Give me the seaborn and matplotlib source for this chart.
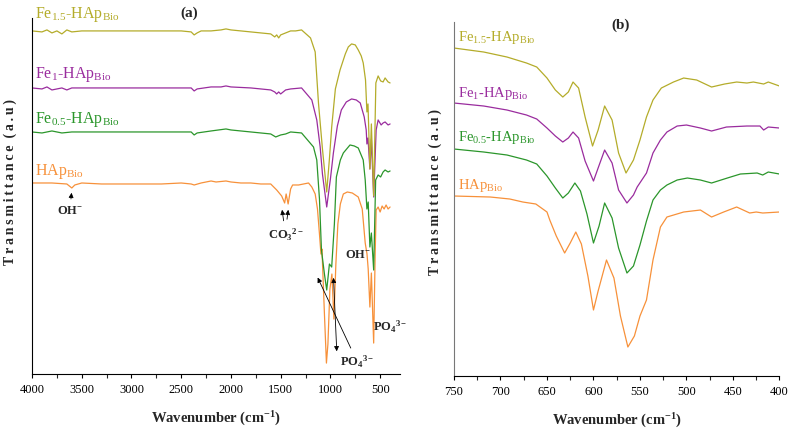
import numpy as np
import seaborn as sns
import matplotlib
matplotlib.use('Agg')
import matplotlib.pyplot as plt
from matplotlib.ticker import MultipleLocator

sns.set_style('ticks')
plt.rcParams['font.family'] = ['Liberation Serif', 'DejaVu Serif']
plt.rcParams['mathtext.fontset'] = 'custom'
plt.rcParams['mathtext.rm'] = 'Liberation Serif'
plt.rcParams['mathtext.it'] = 'Liberation Serif:italic'
plt.rcParams['mathtext.bf'] = 'Liberation Serif:bold'

names = ['HAp', 'Fe0.5', 'Fe1', 'Fe1.5']
labels = {'HAp': r'HAp$_{\mathrm{Bio}}$',
          'Fe0.5': r'Fe$_{\mathrm{0.5}}$-HAp$_{\mathrm{Bio}}$',
          'Fe1': r'Fe$_{\mathrm{1}}$-HAp$_{\mathrm{Bio}}$',
          'Fe1.5': r'Fe$_{\mathrm{1.5}}$-HAp$_{\mathrm{Bio}}$'}
colors = {'HAp': '#f7913a', 'Fe0.5': '#2b962b', 'Fe1': '#9a2c9e', 'Fe1.5': '#b4ac2a'}

# panel (a): full range, arbitrary transmittance units (curves already stacked)
wn_a = {
    'Fe1.5': [4000, 3900, 3850, 3800, 3750, 3700, 3650, 3600, 3500, 3400,
              3300, 3000, 2700, 2500, 2400, 2370, 2340, 2300, 2200, 2100,
              2050, 2000, 1900, 1800, 1700, 1600, 1560, 1540, 1520, 1500,
              1450, 1400, 1350, 1290, 1200, 1153, 1120, 1080, 1037, 1010,
              987, 950, 903, 850, 820, 787, 750, 720, 690, 670, 647, 633, 622,
              603, 588, 565, 543, 520, 495, 470, 450, 420, 400],
    'Fe1': [4000, 3900, 3850, 3800, 3700, 3650, 3600, 3500, 3400, 3000,
            2700, 2400, 2370, 2340, 2200, 2100, 2050, 2000, 1800, 1700,
            1600, 1560, 1540, 1520, 1500, 1450, 1400, 1290, 1187, 1137,
            1103, 1080, 1037, 1000, 970, 930, 890, 840, 787, 740, 700, 660, 640,
            633, 622, 603, 588, 565, 540, 520, 490, 470, 450,
            420, 400],
    'Fe0.5': [4000, 3900, 3800, 3700, 3600, 3500, 3000, 2700, 2400, 2370,
              2340, 2200, 2050, 2000, 1800, 1600, 1550, 1500, 1450, 1400,
              1290, 1170, 1137, 1110, 1090, 1060, 1037, 1010, 987, 960,
              940, 900, 870, 803, 760, 720, 670, 650, 633, 620, 603, 588,
              565, 545, 520, 495, 470, 450, 420, 400],
    'HAp': [4000, 3800, 3650, 3600, 3570, 3500, 3300, 3000, 2700, 2500,
            2400, 2370, 2300, 2200, 2150, 2050, 2000, 1900, 1800, 1700,
            1600, 1540, 1490, 1460, 1445, 1425, 1400, 1380, 1320, 1220,
            1187, 1153, 1130, 1110, 1095, 1085, 1060, 1040, 1025, 1005,
            985, 965, 945, 925, 900, 870, 830, 780, 720, 680,
            650, 632, 620, 603, 588, 565, 550, 540, 520, 500,
            480, 460, 440, 420, 400],
}
t_a = {
    'Fe1.5': [343, 342, 344, 341, 343, 340, 344, 342, 343, 343,
              343, 343, 343, 343, 342, 339, 341, 343, 343, 344,
              345, 344, 343, 342, 341, 340, 337, 339, 336, 339,
              341, 343, 343, 344, 336, 322, 271, 225, 182, 215,
              247, 285, 304, 320, 327, 330, 329, 324, 318, 311, 294, 262, 270,
              205, 250, 178, 291, 298, 293, 292, 296, 292, 291],
    'Fe1': [286, 285, 287, 284, 286, 284, 286, 286, 286, 286,
            286, 286, 283, 285, 287, 287, 288, 287, 286, 285,
            284, 282, 280, 282, 280, 284, 285, 286, 274, 254,
            227, 200, 167, 195, 221, 248, 264, 272, 275, 274, 271, 257, 244,
            230, 236, 205, 235, 177, 244, 254, 249, 251, 252,
            249, 250],
    'Fe0.5': [242, 241, 243, 241, 242, 242, 242, 242, 242, 239,
              241, 243, 245, 244, 242, 240, 237, 239, 240, 242,
              241, 227, 214, 175, 124, 100, 84, 110, 107, 150,
              197, 214, 221, 229, 228, 226, 214, 194, 165, 172, 127, 141,
              104, 194, 199, 197, 202, 204, 202, 203],
    'HAp': [191, 191, 190, 186, 189, 191, 190, 190, 190, 191,
            190, 189, 191, 193, 192, 193, 192, 191, 191, 190,
            190, 184, 178, 171, 180, 170, 185, 189, 189, 191,
            187, 180, 165, 140, 120, 125, 60, 11, 30, 85,
            100, 55, 110, 150, 170, 180, 182, 181, 177, 165,
            131, 120, 105, 67, 101, 31, 120, 164, 167, 162,
            168, 165, 169, 165, 167],
}

# panel (b): 750-400 cm-1 zoom
wn_b = {
    'Fe1.5': [750, 718, 693, 672, 661, 650, 641, 633, 627, 622, 616, 609, 601,
              595, 588, 580, 573, 565, 557, 550, 543, 536, 527, 514, 503,
              489, 473, 459, 446, 435, 428, 417, 412, 400],
    'Fe1': [750, 718, 693, 672, 661, 650, 641, 633, 627, 622, 616, 609, 600,
            595, 588, 580, 573, 564, 557, 553, 543, 536, 528, 521, 510,
            500, 485, 473, 457, 435, 421, 417, 412, 400],
    'Fe0.5': [750, 718, 693, 672, 661, 650, 641, 633, 627, 620, 614, 607, 600,
              594, 588, 580, 573, 564, 557, 550, 543, 536, 528, 521, 510,
              499, 485, 473, 456, 442, 424, 418, 412, 400],
    'HAp': [750, 711, 690, 676, 662, 650, 647, 640, 631, 625, 619, 613, 606,
            600, 595, 586, 578, 571, 563, 556, 550, 543, 536, 528, 521,
            503, 485, 473, 460, 446, 432, 425, 418, 400],
}
t_b = {
    'Fe1.5': [328, 324, 319, 313, 309, 298, 286, 279, 284, 294, 288, 259, 230,
              246, 270, 256, 223, 203, 216, 236, 259, 276, 288, 294, 298,
              296, 289, 292, 294, 293, 294, 292, 294, 290],
    'Fe1': [273, 270, 266, 261, 257, 248, 240, 234, 238, 244, 238, 215, 195,
            208, 226, 213, 186, 173, 181, 189, 203, 223, 236, 244, 250,
            251, 248, 245, 249, 250, 250, 246, 249, 248],
    'Fe0.5': [227, 224, 221, 216, 212, 200, 188, 178, 183, 193, 185, 162, 133,
              150, 173, 158, 128, 103, 110, 131, 155, 176, 186, 191, 196,
              198, 196, 193, 198, 202, 203, 201, 204, 202],
    'HAp': [180, 179, 177, 174, 172, 164, 156, 140, 123, 133, 144, 132, 100,
            66, 85, 116, 98, 60, 29, 40, 60, 76, 116, 149, 159,
            164, 166, 159, 164, 169, 163, 164, 163, 164],
}

fig = plt.figure(figsize=(7.89, 4.37), dpi=100)
ax_a = fig.add_axes([0.0406, 0.144, 0.4664, 0.815])
ax_b = fig.add_axes([0.5754, 0.1396, 0.4125, 0.81])

for n in names:
    sns.lineplot(x=wn_a[n], y=t_a[n], ax=ax_a, color=colors[n], linewidth=0.9)
    sns.lineplot(x=wn_b[n], y=t_b[n], ax=ax_b, color=colors[n], linewidth=0.9)

ax_a.set_xlim(4000, 300)
ax_a.set_ylim(0, 356)
ax_b.set_xlim(750, 400)
ax_b.set_ylim(0, 354)
ax_a.xaxis.set_major_locator(MultipleLocator(500))
ax_a.xaxis.set_minor_locator(MultipleLocator(250))
ax_b.xaxis.set_major_locator(MultipleLocator(50))
ax_b.xaxis.set_minor_locator(MultipleLocator(25))

ylab = '\u2009'.join('Transmittance') + '  ' + '\u2009'.join('(a.u)')
for ax, title, tx, ty, lx, ly in [(ax_a, '(a)', 2420, 361, -0.041, 0.54),
                                  (ax_b, '(b)', 571, 351, -0.037, 0.52)]:
    sns.despine(ax=ax)
    ax.set_yticks([])
    ax.tick_params(axis='x', which='major', direction='out', length=3, width=0.8,
                   labelsize=9, pad=4, colors='black')
    ax.tick_params(axis='x', which='minor', direction='out', length=3, width=0.8)
    ax.set_xlabel(r'Wavenumber (cm$^{\mathbf{-1}}$)', fontsize=10.5, fontweight='bold', labelpad=10)
    ax.set_ylabel(ylab, fontsize=10, fontweight='bold')
    ax.yaxis.set_label_coords(lx, ly)
    ax.text(tx, ty, title, fontsize=11, fontweight='bold', ha='center', va='center')
    ax.spines['bottom'].set_color('black')
ax_a.spines['left'].set_color('black')
ax_b.spines['left'].set_color('#777777')

# series names
for n, (xa, ya), (xb, yb) in [('Fe1.5', (3970, 359), (746, 339)),
                              ('Fe1', (3970, 299), (746, 283)),
                              ('Fe0.5', (3970, 254), (746, 239)),
                              ('HAp', (3970, 202), (746, 191))]:
    ax_a.text(xa, ya, labels[n], color=colors[n], fontsize=11.5, ha='left', va='center', clip_on=False)
    ax_b.text(xb, yb, labels[n], color=colors[n], fontsize=10.5, ha='left', va='center', clip_on=False)

# band assignments
akw = dict(arrowstyle='-|>', color='black', lw=0.6, mutation_scale=7)
ax_a.annotate(r'OH$^{\mathbf{-}}$', xy=(3600, 184), xytext=(3620, 163), fontsize=9,
              fontweight='bold', ha='center', va='center', arrowprops=akw)
ax_a.annotate(r'CO$_{\mathbf{3}}{}^{\mathbf{2-}}$', xy=(1490, 167), xytext=(1450, 139),
              fontsize=9, fontweight='bold', ha='center', va='center', arrowprops=akw)
ax_a.annotate('', xy=(1420, 167), xytext=(1440, 152), arrowprops=akw)
ax_a.annotate(r'PO$_{\mathbf{4}}{}^{\mathbf{3-}}$', xy=(1140, 99), xytext=(902, 12),
              fontsize=9, fontweight='bold', ha='left', va='center', arrowprops=akw)
ax_a.annotate('', xy=(970, 99), xytext=(935, 20),
              arrowprops=dict(akw, arrowstyle='<|-|>'))
ax_a.text(720, 119, r'OH$^{\mathbf{-}}$', fontsize=9, fontweight='bold', ha='center', va='center')
ax_a.text(570, 47, r'PO$_{\mathbf{4}}{}^{\mathbf{3-}}$', fontsize=9, fontweight='bold',
          ha='left', va='center', clip_on=False)

fig.savefig('out.png', dpi=100)
